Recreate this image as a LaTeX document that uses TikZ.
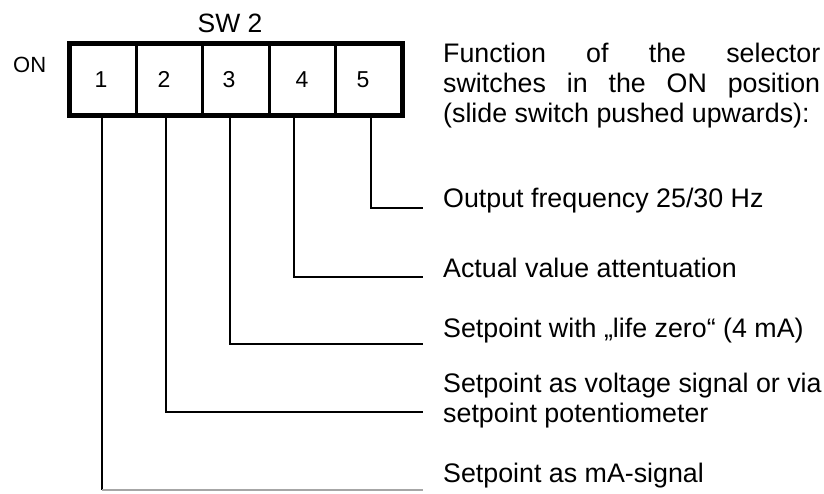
\documentclass[tikz,border=0pt]{standalone}
\usepackage{fontspec}
\setmainfont{Liberation Sans}
\begin{document}
\begin{tikzpicture}[x=1pt,y=-1pt,
  txt/.style={inner sep=0pt,anchor=base west,font=\fontsize{26.8}{30}\selectfont},
  num/.style={inner sep=0pt,anchor=base,font=\fontsize{23}{26}\selectfont},
  cell/.style={draw,line width=3pt,minimum width=66.2pt,minimum height=70pt,inner sep=0pt,anchor=north west},
  lead/.style={line width=1.8pt}]
\useasboundingbox (0,0) rectangle (824,493);
% switch block
\foreach \i/\x in {1/69,2/135.2,3/201.4,4/267.6,5/333.8}{
  \node[cell] (c\i) at (\x,43) {};
}
\draw[line width=4.5pt] (c1.north west) rectangle (c5.south east);
\node[num] (n1) at (101,87) {1};
\node[num] (n2) at (164,87) {2};
\node[num] (n3) at (229,87) {3};
\node[num] (n4) at (302,87) {4};
\node[num] (n5) at (363,87) {5};
\node[inner sep=0pt,anchor=base,font=\fontsize{26.5}{30}\selectfont] (sw) at (230,32) {SW 2};
\node[inner sep=0pt,anchor=base west,font=\fontsize{22}{25}\selectfont] (on) at (13,72) {ON};
% header text
\node[txt] (h1) at (443,62) {\makebox[377pt][s]{Function of the selector}};
\node[txt] (h2) at (443,92) {\makebox[377pt][s]{switches in the ON position}};
\node[txt] (h3) at (443,122) {(slide switch pushed upwards):};
% labels
\node[txt] (t5) at (443,207) {Output frequency 25/30 Hz};
\node[txt] (t4) at (443,277) {Actual value attentuation};
\node[txt] (t3) at (443,337) {Setpoint with „life zero“ (4 mA)};
\node[txt] (t2a) at (443,392) {Setpoint as voltage signal or via};
\node[txt] (t2b) at (443,422) {setpoint potentiometer};
\node[txt] (t1) at (443,482) {Setpoint as mA-signal};
% lead coordinates
\coordinate (p1) at (102,113);
\coordinate (p2) at (166,113);
\coordinate (p3) at (230,113);
\coordinate (p4) at (294,113);
\coordinate (p5) at (371,113);
\coordinate (e1) at (423,490);
\coordinate (e2) at (423,412);
\coordinate (e3) at (423,344);
\coordinate (e4) at (423,277);
\coordinate (e5) at (423,208);
\draw[lead] (p5) |- (e5);
\draw[lead] (p4) |- (e4);
\draw[lead] (p3) |- (e3);
\draw[lead] (p2) |- (e2);
\draw[lead] (p1) -- (p1 |- e1);
\draw[lead,black!35] (p1 |- e1) -- (e1);
\end{tikzpicture}
\end{document}
